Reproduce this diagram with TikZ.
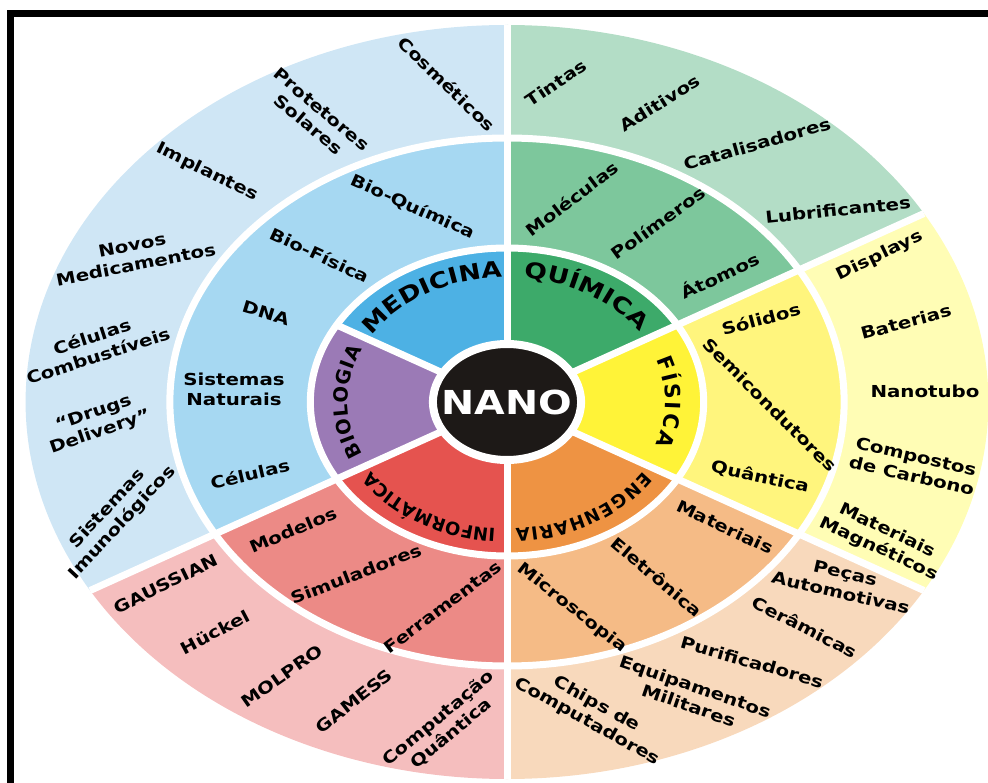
\documentclass[tikz,border=0pt]{standalone}
\usepackage{fontspec}
\setmainfont{DejaVu Sans}[FakeStretch=1.2]
\newfontfamily\areafamily{DejaVu Sans}
\usetikzlibrary{decorations.text}

% inner ring
\definecolor{medicina}{HTML}{4DB1E4}
\definecolor{biologia}{HTML}{9B7AB6}
\definecolor{informatica}{HTML}{E5534F}
\definecolor{engenharia}{HTML}{EE9343}
\definecolor{fisica}{HTML}{FFF338}
\definecolor{quimica}{HTML}{3DAA6A}
% middle ring
\definecolor{bioMid}{HTML}{A6D8F2}
\definecolor{infMid}{HTML}{EC8A86}
\definecolor{engMid}{HTML}{F5BB86}
\definecolor{fisMid}{HTML}{FFF57D}
\definecolor{quiMid}{HTML}{7DC79C}
% outer ring
\definecolor{bioOut}{HTML}{CFE6F5}
\definecolor{infOut}{HTML}{F5BEBE}
\definecolor{engOut}{HTML}{F8D9BC}
\definecolor{fisOut}{HTML}{FFFDB5}
\definecolor{quiOut}{HTML}{B3DDC6}
\definecolor{nano}{HTML}{1D1917}

% wide letters on the top, narrower ones elsewhere
\newcommand\areafont{\fontsize{22}{22}\selectfont\bfseries}
\newcommand\areanarrow[1]{\areafamily\fontsize{#1}{#1}\selectfont\bfseries}

\begin{document}
\begin{tikzpicture}[x=1pt,y=1pt]
\tikzstyle{every node}+=[inner sep=0pt]
\tikzstyle{item}=[font=\fontsize{16.5}{20}\selectfont\bfseries, align=center]
\tikzstyle{gap}=[white, line width=7pt]
\tikzstyle{area}=[decorate, decoration={text along path, text align=fit to path}]

\useasboundingbox (0,0) rectangle (988,-783);

% frame
\fill[black] (7,-10) rectangle (988,-17);
\fill[black] (7,-10) rectangle (14,-783);

\begin{scope}[shift={(507,-402)}, xscale=1.277]
% outer ring
\fill[bioOut] (0,0) -- (90:377) arc[start angle=90, end angle=210, radius=377] -- cycle;
\fill[infOut] (0,0) -- (210:377) arc[start angle=210, end angle=270, radius=377] -- cycle;
\fill[engOut] (0,0) -- (270:377) arc[start angle=270, end angle=330, radius=377] -- cycle;
\fill[fisOut] (0,0) -- (-30:377) arc[start angle=-30, end angle=30, radius=377] -- cycle;
\fill[quiOut] (0,0) -- (30:377) arc[start angle=30, end angle=90, radius=377] -- cycle;
% middle ring
\fill[bioMid] (0,0) -- (90:264) arc[start angle=90, end angle=210, radius=264] -- cycle;
\fill[infMid] (0,0) -- (210:264) arc[start angle=210, end angle=270, radius=264] -- cycle;
\fill[engMid] (0,0) -- (270:264) arc[start angle=270, end angle=330, radius=264] -- cycle;
\fill[fisMid] (0,0) -- (-30:264) arc[start angle=-30, end angle=30, radius=264] -- cycle;
\fill[quiMid] (0,0) -- (30:264) arc[start angle=30, end angle=90, radius=264] -- cycle;
% inner ring
\fill[medicina] (0,0) -- (90:154) arc[start angle=90, end angle=150, radius=154] -- cycle;
\fill[biologia] (0,0) -- (150:154) arc[start angle=150, end angle=210, radius=154] -- cycle;
\fill[informatica] (0,0) -- (210:154) arc[start angle=210, end angle=270, radius=154] -- cycle;
\fill[engenharia] (0,0) -- (270:154) arc[start angle=270, end angle=330, radius=154] -- cycle;
\fill[fisica] (0,0) -- (-30:154) arc[start angle=-30, end angle=30, radius=154] -- cycle;
\fill[quimica] (0,0) -- (30:154) arc[start angle=30, end angle=90, radius=154] -- cycle;

% white gaps between the parts
\draw[gap] (0,0) circle (264);
\draw[gap] (0,0) circle (154);
\draw[gap] (0,0) -- (90:377);
\draw[gap] (0,0) -- (30:377);
\draw[gap] (0,0) -- (-30:377);
\draw[gap] (0,0) -- (-90:377);
\draw[gap] (0,0) -- (210:377);
\draw[gap] (0,0) -- (150:154);

% hub
\filldraw[fill=nano, draw=white, line width=8pt] (0,0) circle (58);
\draw (0,0) node[text=white, font=\fontsize{33}{33}\selectfont\bfseries] (nano) {NANO};

% area names along the inner ring
\path[area, decoration={text={|\areafont|MEDICINA}}] (148:125) arc[start angle=148, end angle=92, radius=125];
\path[area, decoration={text={|\areafont|QUÍMICA}}] (84:125) arc[start angle=84, end angle=34, radius=125];
\path[area, decoration={text={|\areanarrow{21}|FÍSICA}}] (20:124) arc[start angle=20, end angle=-20, radius=124];
\path[area, decoration={text={|\areanarrow{18}|ENGENHARIA}}] (-33:127) arc[start angle=-33, end angle=-87, radius=127];
\path[area, decoration={text={|\areanarrow{18}|INFORMÁTICA}}] (266:127) arc[start angle=266, end angle=213, radius=127];
\path[area, decoration={text={|\areanarrow{19.5}|BIOLOGIA}}] (205:125) arc[start angle=205, end angle=155, radius=125];
\end{scope}

% medicina and biologia
\draw (447,-84) node[item, rotate=-44] (cosmeticos) {Cosméticos};
\draw (315,-117) node[item, rotate=-40] (protetores) {Protetores\\Solares};
\draw (207,-172) node[item, rotate=-26] (implantes) {Implantes};
\draw (134,-255) node[item, rotate=11] (medicamentos) {Novos\\Medicamentos};
\draw (95,-346) node[item, rotate=18] (combustiveis) {Células\\Combustíveis};
\draw (97,-423) node[item, rotate=19] (drugs) {“Drugs\\Delivery”};
\draw (115,-516) node[item, rotate=47] (imuno) {Sistemas\\Imunológicos};
\draw (413,-207) node[item, rotate=-24] (bioquimica) {Bio-Química};
\draw (320,-255) node[item, rotate=-25] (biofisica) {Bio-Física};
\draw (266,-313) node[item, rotate=-17] (dna) {DNA};
\draw (234,-389) node[item] (naturais) {Sistemas\\Naturais};
\draw (250,-474) node[item, rotate=13] (celulas) {Células};

% quimica
\draw (556,-83) node[item, rotate=34] (tintas) {Tintas};
\draw (660,-103) node[item, rotate=32] (aditivos) {Aditivos};
\draw (757,-144) node[item, rotate=16] (catalisadores) {Catalisadores};
\draw (838,-210) node[item, rotate=6] (lubrificantes) {Lubrificantes};
\draw (572,-199) node[item, rotate=37] (moleculas) {Moléculas};
\draw (658,-223) node[item, rotate=36] (polimeros) {Polímeros};
\draw (720,-275) node[item, rotate=25] (atomos) {Átomos};

% fisica
\draw (880,-256) node[item, rotate=26] (displays) {Displays};
\draw (906,-322) node[item, rotate=15] (baterias) {Baterias};
\draw (925,-391) node[item] (nanotubo) {Nanotubo};
\draw (914,-466) node[item, rotate=-13] (carbono) {Compostos\\de Carbono};
\draw (883,-540) node[item, rotate=-25] (magneticos) {Materiais\\Magnéticos};
\draw (761,-319) node[item, rotate=15] (solidos) {Sólidos};
\draw (770,-405) node[item, rotate=-45] (semicondutores) {Semicondutores};
\draw (760,-477) node[item, rotate=-12] (quantica) {Quântica};

% engenharia
\draw (843,-583) node[item, rotate=-13] (pecas) {Peças\\Automotivas};
\draw (805,-627) node[item, rotate=-27] (ceramicas) {Cerâmicas};
\draw (752,-662) node[item, rotate=-16] (purificadores) {Purificadores};
\draw (692,-696) node[item, rotate=-19] (militares) {Equipamentos\\Militares};
\draw (592,-713) node[item, rotate=-29] (chips) {Chips de\\Computadores};
\draw (725,-527) node[item, rotate=-25] (materiais) {Materiais};
\draw (657,-577) node[item, rotate=-40] (eletronica) {Eletrônica};
\draw (572,-608) node[item, rotate=-38] (microscopia) {Microscopia};

% informatica
\draw (166,-584) node[item, rotate=26] (gaussian) {GAUSSIAN};
\draw (215,-632) node[item, rotate=28] (huckel) {Hückel};
\draw (282,-676) node[item, rotate=35] (molpro) {MOLPRO};
\draw (354,-701) node[item, rotate=38] (gamess) {GAMESS};
\draw (445,-726) node[item, rotate=40] (computacao) {Computação\\Quântica};
\draw (293,-530) node[item, rotate=23] (modelos) {Modelos};
\draw (356,-574) node[item, rotate=21] (simuladores) {Simuladores};
\draw (443,-607) node[item, rotate=37] (ferramentas) {Ferramentas};
\end{tikzpicture}
\end{document}
